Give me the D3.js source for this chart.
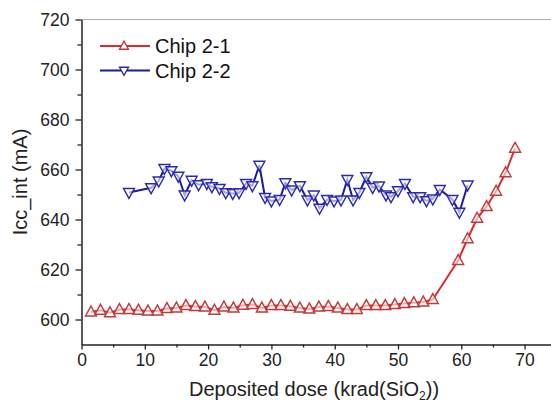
<!DOCTYPE html>
<html>
<head>
<meta charset="utf-8">
<script src="https://cdn.jsdelivr.net/npm/d3@7"></script>
<style>
  body { margin: 0; background: #fff; }
  text { font-family: Arial, "Liberation Sans", sans-serif; }
</style>
</head>
<body>
<div id="container"></div>
<script>
// Chip 2-1 (red, up triangles)
const chip1X = [1.5, 3, 4.5, 6, 7.5, 9, 10.5, 12, 13.5, 15, 16.5, 18, 19.5, 21, 22.5, 24, 25.5, 27, 28.5, 30,
    31.5, 33, 34.5, 36, 37.5, 39, 40.5, 42, 43.5, 45, 46.5, 48, 49.5, 51, 52.5, 54, 55.5,
    59.5, 61, 62.5, 64, 65.5, 67, 68.5];
const chip1Y = [603, 603.7, 602.7, 604, 604, 603.7, 603.4, 603.4, 604.4, 604.6, 605.6, 605.2, 605, 603.7, 605, 604.6, 605.7, 606, 604.6, 605.6,
    605.6, 605.3, 604.6, 604.2, 605, 605.2, 604.6, 604, 604, 605.6, 605.6, 605.6, 606, 606.4, 606.7, 607, 608,
    623.6, 632.3, 640.5, 645.2, 651.3, 658.7, 668.5];

// Chip 2-2 (blue, down triangles)
const chip2X = [7.5, 11, 12.2, 13.1, 14.2, 15.3, 16.3, 17.4, 18.5, 19.8, 20.6, 21.8, 22.8, 23.9, 24.9, 26, 27, 28.1, 29, 30,
    31.3, 32.2, 33.2, 34.5, 35.7, 36.7, 37.6, 38.8, 39.9, 41, 42, 42.9, 43.9, 45, 46, 47, 48.1, 48.9, 50, 51.1,
    52.4, 53.5, 54.5, 55.5, 56.6, 58.6, 59.7, 61];
const chip2Y = [650.8, 652.7, 655.4, 660.4, 659.5, 657.3, 649.8, 655.7, 653.9, 654.4, 653.1, 652.4, 650.7, 650.4, 650.7, 654.4, 653.5, 661.7, 648.8, 647.4,
    648, 654.7, 651.8, 653.5, 647.8, 649.8, 644.5, 648, 647.4, 647.8, 656, 647.8, 650.8, 657.1, 652.8, 653.4, 649.8, 649.1, 651.5, 654.4,
    649.1, 649.1, 647.5, 648.2, 652, 648, 642.9, 653.8];

const xTicks = [0, 10, 20, 30, 40, 50, 60, 70];
const yTicks = [600, 620, 640, 660, 680, 700, 720];

const series = [
    { name: 'Chip 2-1', xs: chip1X, ys: chip1Y, line: '#dd2a2a', mark: '#bf3a3a', up: true },
    { name: 'Chip 2-2', xs: chip2X, ys: chip2Y, line: '#1c1c9c', mark: '#2a2ab0', up: false }
];

const W = 551, H = 405;
const plotLeft = 81.5, plotTop = 19.5, plotBottom = 344.5;

const svg = d3.select('#container').append('svg')
    .attr('width', W)
    .attr('height', H);

const x = d3.scaleLinear().domain([0, 75]).range([plotLeft, plotLeft + 75 * 6.33]);
const y = d3.scaleLinear().domain([590, 720]).range([plotBottom, plotTop]);

// top frame
svg.append('line')
    .attr('x1', plotLeft).attr('x2', W)
    .attr('y1', plotTop).attr('y2', plotTop)
    .attr('stroke', '#aaa').attr('stroke-width', 1.2);

// axes
svg.append('g')
    .attr('transform', `translate(0,${plotBottom})`)
    .call(d3.axisBottom(x).tickValues(xTicks).tickSize(5).tickSizeOuter(0).tickPadding(4));
svg.append('g')
    .attr('transform', `translate(0,${plotBottom})`)
    .call(d3.axisBottom(x).tickValues(d3.range(5, 76, 10)).tickSize(3).tickFormat('').tickSizeOuter(0))
    .select('.domain').remove();

svg.append('g')
    .attr('transform', `translate(${plotLeft},0)`)
    .call(d3.axisLeft(y).tickValues(yTicks).tickSize(6).tickSizeOuter(0).tickPadding(6));
svg.append('g')
    .attr('transform', `translate(${plotLeft},0)`)
    .call(d3.axisLeft(y).tickValues(d3.range(610, 720, 20)).tickSize(4).tickFormat('').tickSizeOuter(0))
    .select('.domain').remove();

svg.selectAll('.domain').attr('stroke', '#222').attr('stroke-width', 1.5);
svg.selectAll('.tick line').attr('stroke', '#222').attr('stroke-width', 1.3);
svg.selectAll('.tick text')
    .attr('font-size', 17.5)
    .attr('fill', '#222')
    .style('font-family', 'Arial, "Liberation Sans", sans-serif');

// axis titles
const xTitle = svg.append('text')
    .attr('x', 314).attr('y', 396)
    .attr('text-anchor', 'middle')
    .attr('font-size', 20)
    .attr('fill', '#222');
xTitle.append('tspan').text('Deposited dose (krad(SiO');
xTitle.append('tspan').attr('font-size', 12).attr('dy', 4).text('2');
xTitle.append('tspan').attr('dy', -4).text('))');

svg.append('text')
    .attr('transform', `translate(27,182) rotate(-90)`)
    .attr('text-anchor', 'middle')
    .attr('font-size', 20)
    .attr('fill', '#222')
    .text('Icc_int (mA)');

const tri = (up, s) => {
    const h = s * 0.9;
    return up
        ? `M0,${-h * 0.6}L${s / 2},${h * 0.4}L${-s / 2},${h * 0.4}Z`
        : `M0,${h * 0.6}L${s / 2},${-h * 0.4}L${-s / 2},${-h * 0.4}Z`;
};

series.forEach(s => {
    const pts = s.xs.map((v, i) => [v, s.ys[i]]);
    svg.append('path')
        .datum(pts)
        .attr('fill', 'none')
        .attr('stroke', s.line)
        .attr('stroke-width', 2)
        .attr('d', d3.line().x(d => x(d[0])).y(d => y(d[1])));
    svg.append('g').selectAll('path')
        .data(pts).enter()
        .append('path')
        .attr('transform', d => `translate(${x(d[0])},${y(d[1])})`)
        .attr('d', tri(s.up, 11))
        .attr('fill', '#fff')
        .attr('fill-opacity', 0.6)
        .attr('stroke', s.mark)
        .attr('stroke-width', 1.4);
});

// legend
const legend = svg.append('g');
series.forEach((s, i) => {
    const ly = 46 + i * 24.5;
    legend.append('line')
        .attr('x1', 100).attr('x2', 150)
        .attr('y1', ly).attr('y2', ly)
        .attr('stroke', s.line).attr('stroke-width', 2);
    legend.append('path')
        .attr('transform', `translate(124,${ly})`)
        .attr('d', tri(s.up, 9))
        .attr('fill', '#fff')
        .attr('stroke', s.mark)
        .attr('stroke-width', 1.3);
    legend.append('text')
        .attr('x', 155).attr('y', ly + 7)
        .attr('font-size', 20)
        .attr('fill', '#111')
        .text(s.name);
});
</script>
</body>
</html>
